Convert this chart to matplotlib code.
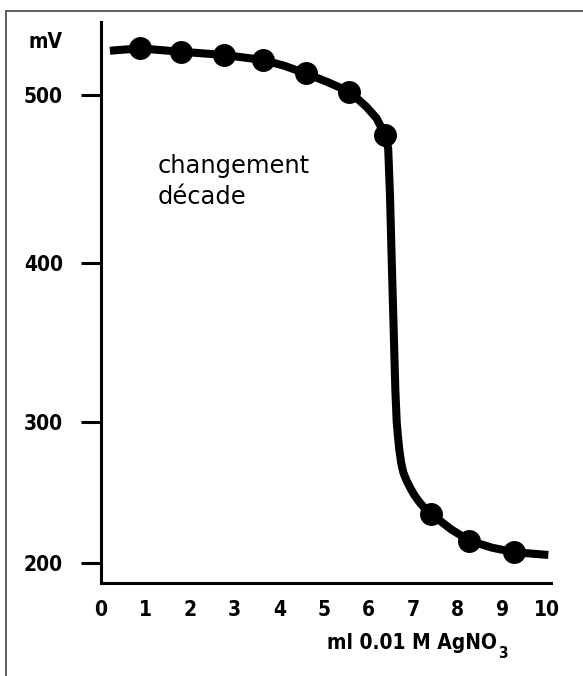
import numpy as np
import matplotlib
matplotlib.use("Agg")
import matplotlib.pyplot as plt
from matplotlib.patches import Rectangle

# ---- data ----
point_ml = [0.87, 1.79, 2.75, 3.63, 4.59, 5.57, 6.37, 7.41, 8.26, 9.27]
point_mv = [527.8, 525.8, 523.9, 520.9, 512.9, 502.0, 476.1, 234.8, 216.0, 207.8]

curve_ml = [0.20, 0.87, 1.79, 2.75, 3.63, 4.10, 4.59, 5.07, 5.57, 5.95, 6.18, 6.37,
            6.44, 6.48, 6.52, 6.56, 6.60, 6.63, 6.66, 6.69, 6.73, 6.78, 6.85, 6.93,
            7.02, 7.12, 7.24, 7.41, 7.85, 8.26, 8.77, 9.27, 10.03]
curve_mv = [526.4, 527.8, 525.8, 523.9, 520.9, 517.5, 512.9, 507.8, 502.0, 493.0, 486.1, 476.1,
            468.0, 440.0, 400.0, 360.0, 320.0, 300.0, 289.0, 280.0, 271.0, 264.0, 258.5, 253.5,
            248.5, 244.0, 239.5, 234.8, 224.0, 216.0, 211.0, 207.8, 205.9]

x_ticks = [0, 1, 2, 3, 4, 5, 6, 7, 8, 9, 10]
y_ticks = [200, 300, 400, 500]
y_axis_label = "mV"
x_axis_label = "ml 0.01 M AgNO"
x_axis_label_sub = "3"
annotation_lines = ["changement", "décade"]

# ---- non-uniform printed y axis: tick spacing of the original drawing ----
knot_mv = np.array([200.0, 300.0, 400.0, 500.0])
knot_h = np.array([0.0, 141.6, 300.6, 468.3])
slope_lo = (knot_h[1] - knot_h[0]) / 100.0
slope_hi = (knot_h[3] - knot_h[2]) / 100.0

def fwd(v):
    v = np.asarray(v, dtype=float)
    out = np.interp(v, knot_mv, knot_h)
    out = np.where(v < knot_mv[0], knot_h[0] + (v - knot_mv[0]) * slope_lo, out)
    out = np.where(v > knot_mv[-1], knot_h[-1] + (v - knot_mv[-1]) * slope_hi, out)
    return out

def inv(h):
    h = np.asarray(h, dtype=float)
    out = np.interp(h, knot_h, knot_mv)
    out = np.where(h < knot_h[0], knot_mv[0] + (h - knot_h[0]) / slope_lo, out)
    out = np.where(h > knot_h[-1], knot_mv[-1] + (h - knot_h[-1]) / slope_hi, out)
    return out

W, H = 583, 676
fig = plt.figure(figsize=(W / 100, H / 100), dpi=100)
ax = fig.add_axes([101 / W, (H - 583) / H, 450 / W, 561 / H])

ax.set_yscale('function', functions=(fwd, inv))
ax.set_xlim(0, 10.09)
ax.set_ylim(inv(-19.7), inv(541.3))

ax.plot(curve_ml, curve_mv, color='black', lw=5.8, solid_capstyle='butt',
        solid_joinstyle='round', zorder=3, clip_on=False)
ax.plot(point_ml, point_mv, 'o', color='black', ms=15.5, zorder=4, clip_on=False)

for s in ['top', 'right']:
    ax.spines[s].set_visible(False)
for s in ['left', 'bottom']:
    ax.spines[s].set_linewidth(2.2)
    ax.spines[s].set_color('black')

label_font = dict(family='DejaVu Sans', weight='bold', stretch='condensed', size=15)

ax.set_xticks(x_ticks)
ax.set_xticklabels([str(t) for t in x_ticks], **label_font)
ax.set_yticks(y_ticks)
ax.set_yticklabels([str(t) for t in y_ticks], **label_font)
ax.tick_params(axis='x', length=0, pad=12)
ax.tick_params(axis='y', length=14.4, width=2.2, pad=13, direction='out')
ax.minorticks_off()

ax.text((62 - 101) / 450, (583 - 42) / 561, y_axis_label, transform=ax.transAxes,
        ha='right', va='center', **label_font)
xl = ax.text((497 - 101) / 450, (583 - 649) / 561, x_axis_label, transform=ax.transAxes,
             ha='right', va='baseline', **label_font)
sub_font = dict(label_font)
sub_font['size'] = 11
ax.annotate(x_axis_label_sub, xy=(1, 0), xycoords=xl, xytext=(0.5, -3.5),
            textcoords='offset points', ha='left', va='baseline', **sub_font)

for i, line in enumerate(annotation_lines):
    ax.text((158 - 101) / 450, (583 - 173 - 31 * i) / 561, line, transform=ax.transAxes,
            ha='left', va='baseline', family='DejaVu Sans', size=17.4, color='black')

# thin frame of the original figure (cropped on right and bottom)
fig.patches.append(Rectangle((5.5 / W, -0.1), 1.2, (H - 10.5) / H + 0.1,
                             transform=fig.transFigure, fill=False,
                             edgecolor='#444444', lw=1.2))

fig.savefig('out.png', dpi=100)
